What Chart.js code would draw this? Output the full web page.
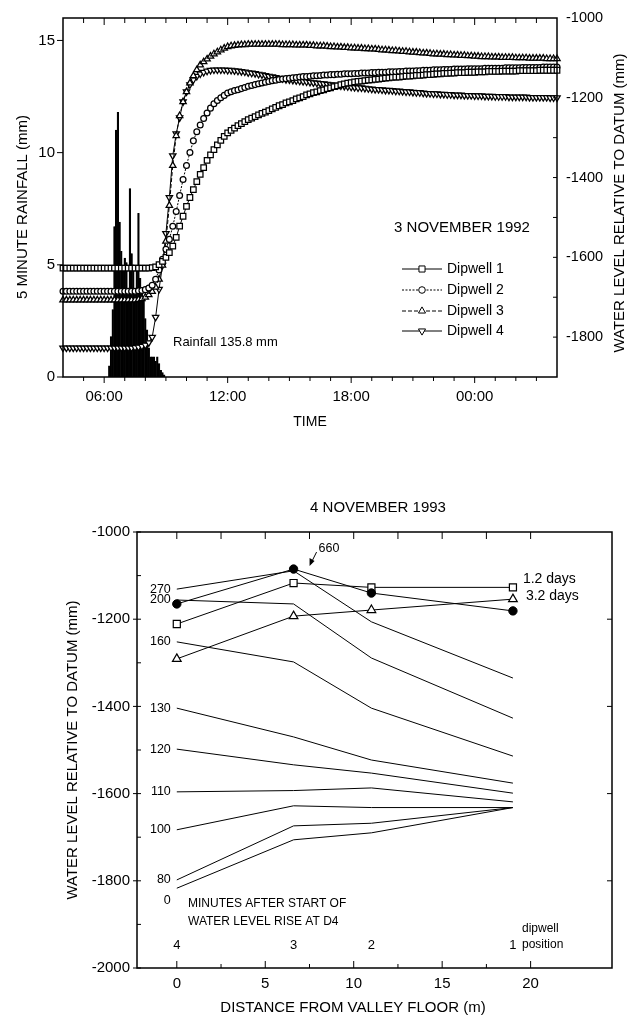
<!DOCTYPE html>
<html>
<head>
<meta charset="utf-8">
<script src="https://cdn.jsdelivr.net/npm/chart.js@4.4.0/dist/chart.umd.min.js"></script>
<style>
  html, body { margin: 0; padding: 0; background: #fff; }
  #wrap { position: relative; width: 627px; height: 1017px; background: #fff; }
  canvas { position: absolute; left: 0; }
  #rainChart { top: 0; }
  #profileChart { top: 450px; }
</style>
</head>
<body>
<div id="wrap">
  <canvas id="rainChart" width="627" height="450"></canvas>
  <canvas id="profileChart" width="627" height="567"></canvas>
</div>
<script>
// ---- 3 November 1992: rainfall and dipwell levels ----
// 5 minute rainfall (mm) from 06:15
const rainfall = [0.5, 1.8, 3.0, 6.7, 11.0, 11.8, 6.9, 5.6, 4.8, 5.3, 5.1, 3.8,
  8.4, 5.5, 5.0, 3.8, 4.8, 7.3, 4.4, 3.9, 3.6, 2.6, 2.1, 1.3,
  0.9, 0.9, 0.9, 0.7, 0.9, 0.6, 0.3, 0.2, 0.1];

// water level relative to datum (mm), 10 minute readings from 04:00 to 04:00 next day
const dipwell1 = [
  -1627,-1627,-1627,-1627,-1627,-1627, -1627,-1627,-1627,-1627,-1627,-1627,
  -1627,-1627,-1627,-1627,-1627,-1627, -1627,-1627,-1627,-1627,-1627,-1627,
  -1627,-1627,-1626,-1624,-1618,-1610, -1600,-1588,-1572,-1550,-1522,-1497,
  -1472,-1450,-1430,-1410,-1392,-1375, -1357,-1343,-1330,-1318,-1307,-1297,
  -1288,-1282,-1276,-1270,-1265,-1260, -1255,-1251,-1247,-1243,-1239,-1236,
  -1232,-1228,-1224,-1220,-1217,-1213, -1210,-1207,-1203,-1200,-1197,-1193,
  -1190,-1187,-1185,-1182,-1180,-1177, -1175,-1172,-1170,-1167,-1165,-1163,
  -1162,-1160,-1159,-1158,-1157,-1156, -1155,-1154,-1153,-1152,-1151,-1150,
  -1149,-1148,-1148,-1147,-1146,-1146, -1145,-1144,-1144,-1143,-1142,-1142,
  -1141,-1140,-1140,-1139,-1139,-1138, -1138,-1137,-1137,-1137,-1136,-1136,
  -1136,-1135,-1135,-1135,-1134,-1134, -1134,-1134,-1133,-1133,-1133,-1133,
  -1133,-1132,-1132,-1132,-1132,-1132, -1132,-1131,-1131,-1131,-1131,-1131,
  -1131];
const dipwell2 = [
  -1685,-1685,-1685,-1685,-1685,-1685, -1685,-1685,-1685,-1685,-1685,-1685,
  -1685,-1685,-1685,-1685,-1685,-1685, -1685,-1685,-1685,-1685,-1684,-1683,
  -1681,-1677,-1670,-1655,-1632,-1605, -1580,-1555,-1522,-1485,-1445,-1405,
  -1370,-1337,-1308,-1285,-1268,-1252, -1238,-1226,-1215,-1207,-1200,-1194,
  -1188,-1185,-1182,-1180,-1177,-1174, -1171,-1169,-1167,-1165,-1163,-1161,
  -1159,-1157,-1156,-1154,-1153,-1152, -1151,-1150,-1149,-1148,-1147,-1147,
  -1146,-1145,-1145,-1144,-1143,-1143, -1142,-1142,-1141,-1141,-1140,-1140,
  -1140,-1139,-1139,-1138,-1138,-1138, -1137,-1137,-1136,-1136,-1136,-1135,
  -1135,-1135,-1134,-1134,-1133,-1133, -1133,-1132,-1132,-1131,-1131,-1131,
  -1130,-1130,-1130,-1129,-1129,-1129, -1128,-1128,-1128,-1128,-1127,-1127,
  -1127,-1127,-1127,-1126,-1126,-1126, -1126,-1126,-1126,-1125,-1125,-1125,
  -1125,-1125,-1124,-1124,-1124,-1124, -1124,-1124,-1123,-1123,-1123,-1123,
  -1123];
const dipwell3 = [
  -1707,-1707,-1707,-1707,-1707,-1707, -1707,-1707,-1707,-1707,-1707,-1707,
  -1707,-1707,-1707,-1707,-1707,-1707, -1707,-1707,-1707,-1707,-1706,-1704,
  -1700,-1694,-1686,-1675,-1655,-1620, -1560,-1470,-1370,-1295,-1245,-1210,
  -1185,-1163,-1145,-1130,-1118,-1110, -1103,-1096,-1090,-1085,-1080,-1076,
  -1072,-1070,-1069,-1068,-1067,-1067, -1066,-1066,-1066,-1066,-1066,-1066,
  -1066,-1066,-1066,-1066,-1067,-1067, -1067,-1067,-1068,-1068,-1068,-1068,
  -1069,-1069,-1070,-1070,-1070,-1071, -1072,-1072,-1073,-1073,-1074,-1074,
  -1075,-1075,-1076,-1076,-1077,-1077, -1078,-1078,-1079,-1080,-1080,-1081,
  -1082,-1082,-1083,-1084,-1084,-1085, -1086,-1086,-1087,-1088,-1088,-1089,
  -1090,-1090,-1091,-1091,-1092,-1092, -1093,-1093,-1094,-1094,-1095,-1095,
  -1096,-1096,-1097,-1097,-1097,-1098, -1098,-1098,-1099,-1099,-1099,-1099,
  -1100,-1100,-1100,-1100,-1101,-1101, -1101,-1101,-1101,-1102,-1102,-1102,
  -1102];
const dipwell4 = [
  -1827,-1827,-1827,-1827,-1827,-1827, -1827,-1827,-1827,-1827,-1827,-1827,
  -1827,-1827,-1827,-1827,-1827,-1827, -1827,-1827,-1827,-1826,-1825,-1823,
  -1820,-1814,-1800,-1750,-1680,-1620, -1540,-1450,-1345,-1290,-1250,-1210,
  -1185,-1167,-1155,-1146,-1140,-1136, -1133,-1131,-1130,-1130,-1130,-1130,
  -1131,-1131,-1132,-1133,-1134,-1135, -1137,-1138,-1139,-1141,-1142,-1144,
  -1146,-1147,-1149,-1151,-1152,-1154, -1155,-1156,-1157,-1158,-1159,-1160,
  -1161,-1162,-1163,-1164,-1165,-1166, -1167,-1168,-1169,-1170,-1171,-1172,
  -1173,-1174,-1175,-1175,-1176,-1177, -1178,-1179,-1179,-1180,-1181,-1181,
  -1182,-1183,-1183,-1184,-1185,-1185, -1186,-1187,-1187,-1188,-1189,-1189,
  -1190,-1190,-1191,-1191,-1192,-1192, -1193,-1193,-1193,-1194,-1194,-1194,
  -1195,-1195,-1195,-1196,-1196,-1196, -1197,-1197,-1197,-1197,-1198,-1198,
  -1198,-1198,-1198,-1198,-1199,-1199, -1199,-1199,-1199,-1199,-1200,-1200,
  -1200];

const timeTicks = [6, 12, 18, 24];
const timeLabels = ['06:00', '12:00', '18:00', '00:00'];
const rainTicks = [0, 5, 10, 15];
const levelTicks = [-1800, -1600, -1400, -1200, -1000];
const wellNames = ['Dipwell 1', 'Dipwell 2', 'Dipwell 3', 'Dipwell 4'];

// ---- 4 November 1993: water table profiles ----
const wellPositions = [0, 6.6, 11, 19];   // dipwells 4, 3, 2, 1
const wellNumbers = ['4', '3', '2', '1'];
const min0 = [-1817, -1706, -1690, -1632];
const min80 = [-1798, -1674, -1668, -1632];
const min100 = [-1683, -1628, -1632, -1632];
const min110 = [-1596, -1593, -1587, -1619];
const min120 = [-1498, -1534, -1553, -1599];
const min130 = [-1404, -1470, -1523, -1576];
const min160 = [-1252, -1298, -1404, -1514];
const min200 = [-1156, -1165, -1289, -1427];
const min270 = [-1131, -1089, -1206, -1335];
const min660 = [-1165, -1085, -1140, -1181];
const days1_2 = [-1211, -1117, -1127, -1127];
const days3_2 = [-1291, -1193, -1179, -1154];
const profileLabels = ['0', '80', '100', '110', '120', '130', '160', '200', '270'];
const profiles = [min0, min80, min100, min110, min120, min130, min160, min200, min270];
const distTicks = [0, 5, 10, 15, 20];
const depthTicks = [-2000, -1800, -1600, -1400, -1200, -1000];

const FONT = '"Liberation Sans", Arial, Helvetica, sans-serif';
Chart.defaults.font.family = FONT;
Chart.defaults.color = '#000';

const hours = dipwell1.map((_, i) => 4 + i / 6);
const rainHours = rainfall.map((_, i) => 6.25 + i / 12);

function text(ctx, str, x, y, size, align, rot) {
  ctx.save();
  ctx.font = size + 'px ' + FONT;
  ctx.fillStyle = '#000';
  ctx.textAlign = align || 'center';
  ctx.textBaseline = 'middle';
  ctx.translate(x, y);
  if (rot) ctx.rotate(rot);
  ctx.fillText(str, 0, 0);
  ctx.restore();
}

function seg(ctx, x1, y1, x2, y2, dash) {
  ctx.save();
  ctx.setLineDash(dash || []);
  ctx.beginPath();
  ctx.moveTo(x1, y1);
  ctx.lineTo(x2, y2);
  ctx.stroke();
  ctx.restore();
}

function xTicks(ctx, scale, vals, y, len) {
  vals.forEach(v => { const x = scale.getPixelForValue(v); seg(ctx, x, y, x, y + len); });
}
function yTicks(ctx, scale, vals, x, len) {
  vals.forEach(v => { const y = scale.getPixelForValue(v); seg(ctx, x, y, x + len, y); });
}

function marker(ctx, style, x, y, r, rot) {
  ctx.save();
  ctx.fillStyle = '#fff';
  ctx.strokeStyle = '#000';
  ctx.lineWidth = 1;
  ctx.beginPath();
  if (style === 'rect') {
    const s = r / Math.SQRT2;
    ctx.rect(x - s, y - s, 2 * s, 2 * s);
  } else if (style === 'circle') {
    ctx.arc(x, y, r, 0, Math.PI * 2);
  } else {
    for (let k = 0; k < 3; k++) {
      const a = (rot + k * 120) * Math.PI / 180;
      const px = x + Math.sin(a) * r, py = y - Math.cos(a) * r;
      if (k === 0) ctx.moveTo(px, py); else ctx.lineTo(px, py);
    }
    ctx.closePath();
  }
  ctx.fill();
  ctx.stroke();
  ctx.restore();
}

const wellStyles = [
  { style: 'rect', rot: 0, r: 3.9, dash: [] },
  { style: 'circle', rot: 0, r: 2.9, dash: [2, 1.5] },
  { style: 'triangle', rot: 0, r: 3.7, dash: [4, 2] },
  { style: 'triangle', rot: 180, r: 3.7, dash: [] }
];

function wellSet(i, values) {
  const s = wellStyles[i];
  return {
    type: 'line',
    label: wellNames[i],
    data: values.map((v, k) => ({ x: hours[k], y: v })),
    yAxisID: 'y2',
    borderColor: '#000',
    borderWidth: 1,
    borderDash: s.dash,
    pointStyle: s.style,
    pointRotation: s.rot,
    pointRadius: s.r,
    pointBackgroundColor: '#fff',
    pointBorderColor: '#000',
    pointBorderWidth: 1.25,
    tension: 0,
    fill: false,
    clip: false,
    order: 0
  };
}

const rainDecor = {
  id: 'rainDecor',
  afterDraw(chart) {
    const ctx = chart.ctx, a = chart.chartArea;
    const sx = chart.scales.x, sy = chart.scales.y, sy2 = chart.scales.y2;
    ctx.save();
    ctx.strokeStyle = '#000';
    ctx.lineWidth = 1.5;
    ctx.strokeRect(a.left, a.top, a.right - a.left, a.bottom - a.top);
    ctx.lineWidth = 1;
    const hourMinor = [];
    for (let h = 5; h < 28; h++) if (!timeTicks.includes(h)) hourMinor.push(h);
    xTicks(ctx, sx, hourMinor, a.bottom, 4);
    xTicks(ctx, sx, timeTicks, a.bottom, 6);
    xTicks(ctx, sx, hourMinor, a.top, 5);
    xTicks(ctx, sx, timeTicks, a.top, 7);
    yTicks(ctx, sy, rainTicks, a.left, -6);
    const levelMinor = [];
    for (let v = -1800; v < -1000; v += 100) levelMinor.push(v);
    yTicks(ctx, sy2, levelMinor, a.right, -4);

    // legend
    const rows = [269, 290, 311, 331];
    wellStyles.forEach((s, i) => {
      seg(ctx, 402, rows[i], 442, rows[i], s.dash);
      marker(ctx, s.style, 422, rows[i], s.r + 0.4, s.rot);
      text(ctx, wellNames[i], 447, rows[i], 14, 'left');
    });
    ctx.restore();

    text(ctx, '3 NOVEMBER 1992', 462, 228, 15);
    text(ctx, 'Rainfall 135.8 mm', 173, 342, 13, 'left');
    text(ctx, 'TIME', 310, 422, 14);
    text(ctx, '5 MINUTE RAINFALL (mm)', 23, 207, 15, 'center', -Math.PI / 2);
    text(ctx, 'WATER LEVEL RELATIVE TO DATUM (mm)', 620, 203, 15, 'center', -Math.PI / 2);
  }
};

new Chart(document.getElementById('rainChart'), {
  type: 'line',
  data: {
    datasets: [
      wellSet(0, dipwell1),
      wellSet(1, dipwell2),
      wellSet(2, dipwell3),
      wellSet(3, dipwell4),
      {
        type: 'bar',
        label: '5 minute rainfall',
        data: rainfall.map((v, i) => ({ x: rainHours[i], y: v })),
        yAxisID: 'y',
        backgroundColor: '#000',
        borderColor: '#000',
        borderWidth: 0.5,
        barPercentage: 1,
        categoryPercentage: 1,
        order: 10
      }
    ]
  },
  options: {
    responsive: false,
    animation: false,
    layout: { padding: { top: 18, left: 0, right: 0, bottom: 0 } },
    plugins: { legend: { display: false }, tooltip: { enabled: false } },
    scales: {
      x: {
        type: 'linear', min: 4, max: 28, offset: false,
        grid: { display: false, drawTicks: false },
        border: { display: false },
        afterBuildTicks: s => { s.ticks = timeTicks.map(v => ({ value: v })); },
        ticks: { callback: (v, i) => timeLabels[i], font: { size: 15 }, padding: 11, maxRotation: 0, autoSkip: false },
        afterFit: s => { s.height = 73; }
      },
      y: {
        position: 'left', min: 0, max: 16,
        grid: { display: false, drawTicks: false },
        border: { display: false },
        afterBuildTicks: s => { s.ticks = rainTicks.map(v => ({ value: v })); },
        ticks: { callback: v => String(v), font: { size: 15 }, padding: 8 },
        afterFit: s => { s.width = 63; }
      },
      y2: {
        position: 'right', min: -1900, max: -1000,
        grid: { display: false, drawTicks: false },
        border: { display: false },
        afterBuildTicks: s => { s.ticks = levelTicks.map(v => ({ value: v })); },
        ticks: { callback: v => String(v), font: { size: 14.5 }, padding: 9 },
        afterFit: s => { s.width = 70; }
      }
    }
  },
  plugins: [rainDecor]
});

// ---- bottom chart ----
const profileDecor = {
  id: 'profileDecor',
  afterDraw(chart) {
    const ctx = chart.ctx, a = chart.chartArea;
    const sx = chart.scales.x, sy = chart.scales.y;
    ctx.save();
    ctx.strokeStyle = '#000';
    ctx.lineWidth = 1.5;
    ctx.strokeRect(a.left, a.top, a.right - a.left, a.bottom - a.top);
    ctx.lineWidth = 1;
    const distMinor = [2.5, 7.5, 12.5, 17.5];
    xTicks(ctx, sx, distTicks, a.bottom, -7);
    xTicks(ctx, sx, distMinor, a.bottom, -4);
    xTicks(ctx, sx, distTicks, a.top, 7);
    xTicks(ctx, sx, distMinor, a.top, 7);
    yTicks(ctx, sy, depthTicks, a.left - 4, 8);
    yTicks(ctx, sy, [-1900, -1700, -1500, -1300, -1100], a.left, 4);
    yTicks(ctx, sy, [-1800, -1600, -1400, -1200], a.right, -5);

    // arrow to the 660 minute profile
    const p = chart.getDatasetMeta(0).data[1];
    seg(ctx, p.x + 23, p.y - 17, p.x + 17, p.y - 5);
    ctx.fillStyle = '#000';
    ctx.beginPath();
    ctx.moveTo(p.x + 16, p.y - 3);
    ctx.lineTo(p.x + 16, p.y - 11);
    ctx.lineTo(p.x + 21, p.y - 8);
    ctx.closePath();
    ctx.fill();
    ctx.restore();

    text(ctx, '660', p.x + 25, p.y - 21, 12.5, 'left');
    const q = chart.getDatasetMeta(1).data[3];
    text(ctx, '1.2 days', q.x + 10, q.y - 8, 14, 'left');
    const t = chart.getDatasetMeta(2).data[3];
    text(ctx, '3.2 days', t.x + 13, t.y - 3, 14, 'left');

    profileLabels.forEach((lab, i) => {
      const pt = chart.getDatasetMeta(3 + i).data[0];
      const dy = lab === '0' ? 12 : 0;
      text(ctx, lab, pt.x - 6, pt.y + dy, 12.5, 'right');
    });

    wellPositions.forEach((x, i) => {
      text(ctx, wellNumbers[i], sx.getPixelForValue(x), 495, 13);
    });
    text(ctx, 'dipwell', 522, 479, 12, 'left');
    text(ctx, 'position', 522, 495, 12, 'left');
    text(ctx, 'MINUTES AFTER START OF', 188, 454, 12, 'left');
    text(ctx, 'WATER LEVEL RISE AT D4', 188, 472, 12, 'left');
    text(ctx, '4 NOVEMBER 1993', 378, 58, 15);
    text(ctx, 'DISTANCE FROM VALLEY FLOOR (m)', 353, 558, 15);
    text(ctx, 'WATER LEVEL RELATIVE TO DATUM (mm)', 73, 300, 15, 'center', -Math.PI / 2);
  }
};

function pts(values) {
  return values.map((v, i) => ({ x: wellPositions[i], y: v }));
}

const profileSets = profiles.map((vals, i) => ({
  label: profileLabels[i] + ' min',
  data: pts(vals),
  borderColor: '#000',
  borderWidth: 1,
  pointRadius: 0,
  tension: 0,
  fill: false
}));

new Chart(document.getElementById('profileChart'), {
  type: 'line',
  data: {
    datasets: [
      { label: '660 min', data: pts(min660), borderColor: '#000', borderWidth: 1, pointStyle: 'circle',
        pointRadius: 4.2, pointBackgroundColor: '#000', pointBorderColor: '#000', tension: 0 },
      { label: '1.2 days', data: pts(days1_2), borderColor: '#000', borderWidth: 1, pointStyle: 'rect',
        pointRadius: 5, pointBackgroundColor: '#fff', pointBorderColor: '#000', pointBorderWidth: 1.2, tension: 0 },
      { label: '3.2 days', data: pts(days3_2), borderColor: '#000', borderWidth: 1, pointStyle: 'triangle',
        pointRadius: 5, pointBackgroundColor: '#fff', pointBorderColor: '#000', pointBorderWidth: 1.2, tension: 0 }
    ].concat(profileSets)
  },
  options: {
    responsive: false,
    animation: false,
    layout: { padding: { top: 82, left: 0, right: 15, bottom: 0 } },
    plugins: { legend: { display: false }, tooltip: { enabled: false } },
    scales: {
      x: {
        type: 'linear', min: -2.25, max: 24.6,
        grid: { display: false, drawTicks: false },
        border: { display: false },
        afterBuildTicks: s => { s.ticks = distTicks.map(v => ({ value: v })); },
        ticks: { callback: v => String(v), font: { size: 15 }, padding: 7, maxRotation: 0, autoSkip: false },
        afterFit: s => { s.height = 49; }
      },
      y: {
        min: -2000, max: -1000,
        grid: { display: false, drawTicks: false },
        border: { display: false },
        afterBuildTicks: s => { s.ticks = depthTicks.map(v => ({ value: v })); },
        ticks: { callback: v => String(v), font: { size: 15 }, padding: 7 },
        afterFit: s => { s.width = 137; }
      }
    }
  },
  plugins: [profileDecor]
});
</script>
</body>
</html>
